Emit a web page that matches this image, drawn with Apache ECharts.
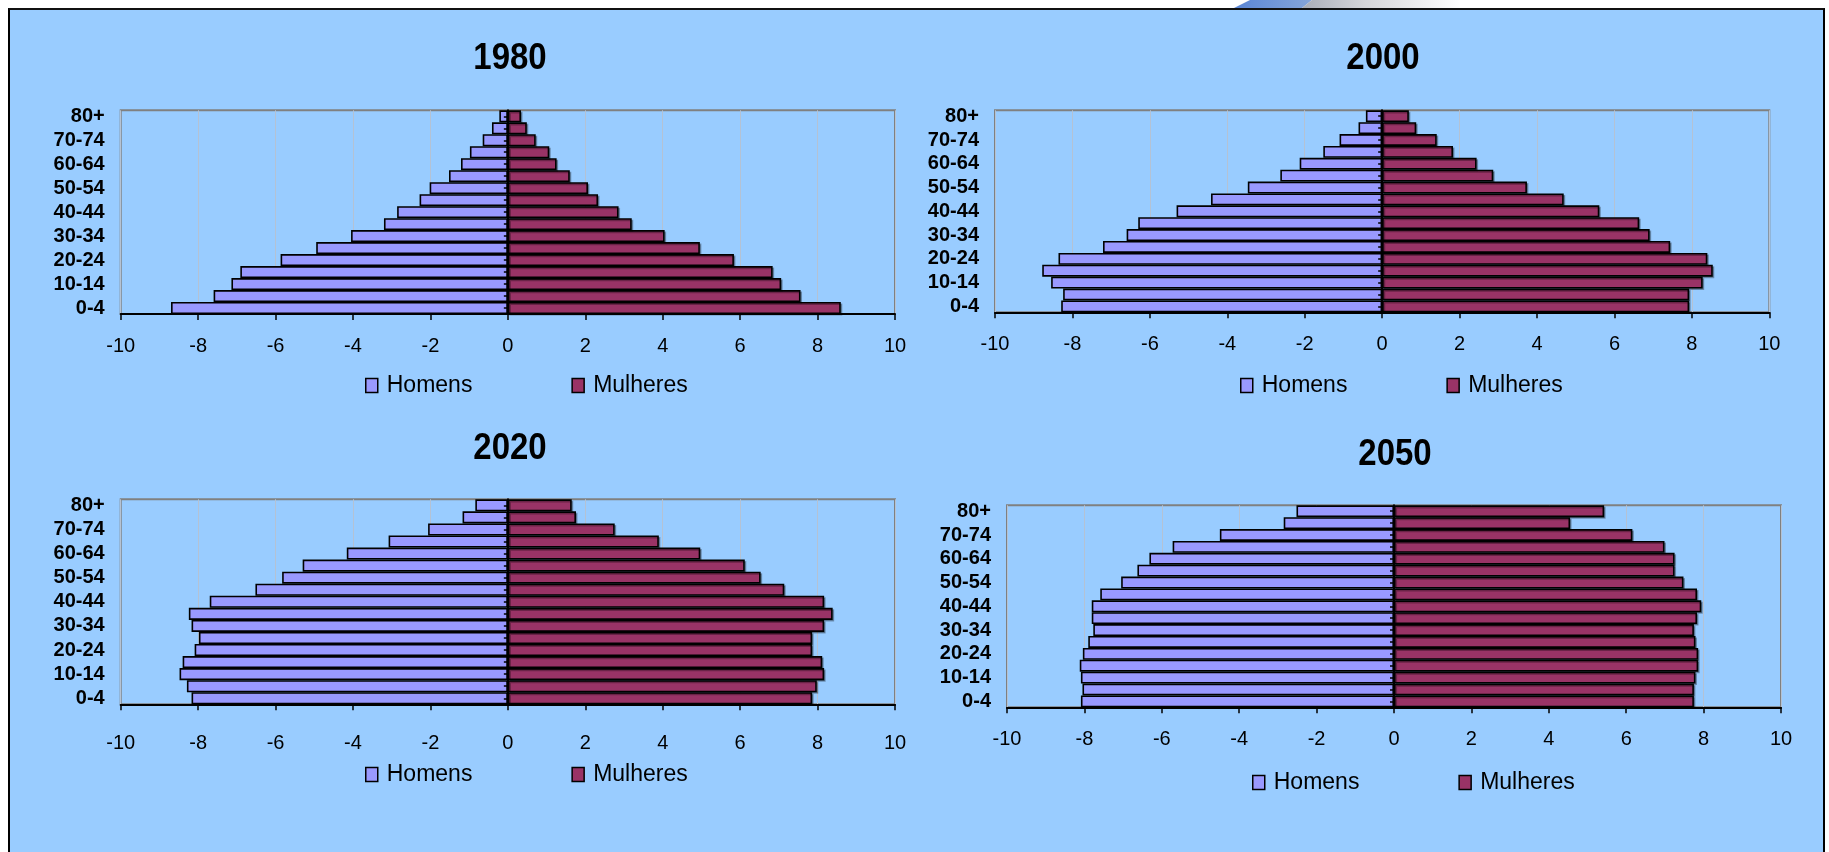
<!DOCTYPE html>
<html>
<head>
<meta charset="utf-8">
<title>Pirâmides etárias 1980–2050</title>
<script src="https://cdn.jsdelivr.net/npm/echarts@6/dist/echarts.min.js"></script>
<style>
  html, body { margin: 0; padding: 0; background: #ffffff; }
  #frame {
    position: absolute; left: 8px; top: 8px; width: 1817px; height: 870px;
    background: #99CCFF; border: 2px solid #000; box-sizing: border-box;
    border-top-color: #111;
  }
  #chart { position: absolute; left: 0; top: 0; width: 1829px; height: 852px; }
</style>
</head>
<body>
<div id="frame"></div>
<div id="chart"></div>
<script>
// Age groups, youngest at the bottom of each pyramid
const ageGroups = ['0-4', '5-9', '10-14', '15-19', '20-24', '25-29', '30-34', '35-39',
  '40-44', '45-49', '50-54', '55-59', '60-64', '65-69', '70-74', '75-79', '80+'];

const years = ['1980', '2000', '2020', '2050'];

// Share of the population (%) in each age group; men plotted to the left
const homens1980 = [-8.70, -7.60, -7.14, -6.91, -5.87, -4.95, -4.05, -3.20, -2.86, -2.28, -2.02, -1.52, -1.21, -0.98, -0.65, -0.41, -0.22];
const mulheres1980 = [8.60, 7.56, 7.06, 6.84, 5.84, 4.96, 4.05, 3.20, 2.86, 2.33, 2.07, 1.60, 1.26, 1.07, 0.72, 0.49, 0.34];

const homens2000 = [-8.29, -8.24, -8.55, -8.78, -8.36, -7.21, -6.60, -6.30, -5.31, -4.42, -3.47, -2.63, -2.13, -1.52, -1.10, -0.61, -0.42];
const mulheres2000 = [7.93, 7.93, 8.28, 8.54, 8.40, 7.44, 6.91, 6.64, 5.61, 4.69, 3.74, 2.87, 2.44, 1.83, 1.41, 0.88, 0.69];

const homens2020 = [-8.17, -8.29, -8.48, -8.40, -8.09, -7.98, -8.17, -8.24, -7.70, -6.52, -5.83, -5.30, -4.16, -3.08, -2.06, -1.17, -0.84];
const mulheres2020 = [7.86, 7.98, 8.17, 8.12, 7.86, 7.86, 8.17, 8.39, 8.17, 7.14, 6.53, 6.12, 4.97, 3.90, 2.76, 1.76, 1.65];

const homens2050 = [-8.09, -8.05, -8.09, -8.12, -8.04, -7.90, -7.77, -7.81, -7.81, -7.59, -7.05, -6.63, -6.32, -5.72, -4.50, -2.85, -2.52];
const mulheres2050 = [7.75, 7.75, 7.79, 7.86, 7.86, 7.79, 7.75, 7.83, 7.94, 7.83, 7.48, 7.25, 7.25, 6.99, 6.16, 4.55, 5.43];

const seriesNames = ['Homens', 'Mulheres'];
const homensByYear = [homens1980, homens2000, homens2020, homens2050];
const mulheresByYear = [mulheres1980, mulheres2000, mulheres2020, mulheres2050];

// x-axis range and step (%)
const xMin = -10, xMax = 10, xStep = 2;

// Panel placement on the page
const panels = [
  { left: 120.7, top: 110.3, width: 774.3, height: 203.7, titleX: 510,  titleY: 59,  labelMargin: 22, legendLeft: 365,  legendY: 386 },
  { left: 995,   top: 110.3, width: 774.3, height: 202,   titleX: 1383, titleY: 59,  labelMargin: 22, legendLeft: 1240, legendY: 386 },
  { left: 120.7, top: 499.3, width: 774.3, height: 205,   titleX: 510,  titleY: 449, labelMargin: 29, legendLeft: 365,  legendY: 775 },
  { left: 1007,  top: 505.3, width: 774,   height: 202,   titleX: 1395, titleY: 455, labelMargin: 22, legendLeft: 1252, legendY: 783 }
];

const FONT = "'Liberation Sans', Arial, Helvetica, sans-serif";
const MALE_COLOR = '#9999FF';
const FEMALE_COLOR = '#993366';

const grid = [], xAxis = [], yAxis = [], series = [], legend = [], graphic = [];

panels.forEach(function (p, i) {
  grid.push({
    left: p.left, top: p.top, width: p.width, height: p.height,
    show: true, borderColor: '#808080', borderWidth: 2, backgroundColor: 'transparent'
  });

  xAxis.push({
    gridIndex: i, type: 'value', min: xMin, max: xMax, interval: xStep,
    axisLine: { show: true, lineStyle: { color: '#000', width: 2 } },
    axisTick: { show: true, length: 6, lineStyle: { color: '#000', width: 1.5 } },
    axisLabel: { margin: p.labelMargin, fontSize: 20, color: '#000', fontFamily: FONT },
    splitLine: { show: true, lineStyle: { color: '#b4c2d4', width: 1 } }
  });

  // Age-group labels at the left edge of the plot
  yAxis.push({
    gridIndex: i, type: 'category', data: ageGroups, position: 'left',
    axisLine: { show: false, onZero: false },
    axisTick: { show: false },
    axisLabel: { interval: 1, fontSize: 20, fontWeight: 'bold', color: '#000', margin: 16, fontFamily: FONT },
    splitLine: { show: false }
  });

  // Vertical axis line drawn on the zero value
  yAxis.push({
    gridIndex: i, type: 'category', data: ageGroups, position: 'left', z: 5,
    axisLine: { show: true, onZero: true, lineStyle: { color: '#000', width: 2 } },
    axisTick: { show: true, alignWithLabel: true, interval: 0, length: 4, lineStyle: { color: '#000', width: 1.5 } },
    axisLabel: { show: false },
    splitLine: { show: false }
  });

  const barBase = {
    type: 'bar', xAxisIndex: i, yAxisIndex: i * 2,
    barGap: '-100%', barCategoryGap: '0%'
  };
  series.push(Object.assign({}, barBase, {
    name: seriesNames[0], data: homensByYear[i],
    itemStyle: { color: MALE_COLOR, borderColor: '#000', borderWidth: 1.6 }
  }));
  series.push(Object.assign({}, barBase, {
    name: seriesNames[1], data: mulheresByYear[i],
    itemStyle: { color: FEMALE_COLOR, borderColor: '#000', borderWidth: 1.6,
      shadowColor: 'rgba(0,0,0,0.3)', shadowOffsetX: 1.5, shadowOffsetY: 1.5 }
  }));

  legend.push({
    data: seriesNames, left: p.legendLeft, top: p.legendY - 12, padding: 0,
    icon: 'rect', itemWidth: 12, itemHeight: 14, itemGap: 99,
    itemStyle: { borderColor: '#000', borderWidth: 1.5 },
    textStyle: { fontSize: 23, color: '#000', fontFamily: FONT, padding: [0, 0, 0, 4] },
    selectedMode: false
  });

  graphic.push({
    type: 'text', x: p.titleX, y: p.titleY, scaleY: 1.1,
    style: { text: years[i], font: 'bold 33px ' + FONT, fill: '#000', textAlign: 'center', textVerticalAlign: 'middle' }
  });
});

// Decorative swoosh crossing the top frame edge
graphic.push({
  type: 'polygon',
  shape: { points: [[1234, 8], [1250, 0], [1312, 0], [1302, 8]] },
  style: { fill: { type: 'linear', x: 0, y: 0, x2: 1, y2: 0, colorStops: [
    { offset: 0, color: '#5a86d6' }, { offset: 1, color: '#86a6da' }] } }
});
graphic.push({
  type: 'polygon',
  shape: { points: [[1302, 8], [1312, 0], [1460, 0], [1460, 8]] },
  style: { fill: { type: 'linear', x: 0, y: 0, x2: 1, y2: 0, colorStops: [
    { offset: 0, color: '#a9adb8' }, { offset: 0.4, color: '#d6d6d9' }, { offset: 1, color: '#ffffff' }] } }
});

const chart = echarts.init(document.getElementById('chart'), null, { renderer: 'canvas' });
chart.setOption({
  animation: false,
  backgroundColor: 'transparent',
  textStyle: { fontFamily: FONT },
  grid: grid,
  xAxis: xAxis,
  yAxis: yAxis,
  series: series,
  legend: legend,
  graphic: graphic
});
</script>
</body>
</html>
